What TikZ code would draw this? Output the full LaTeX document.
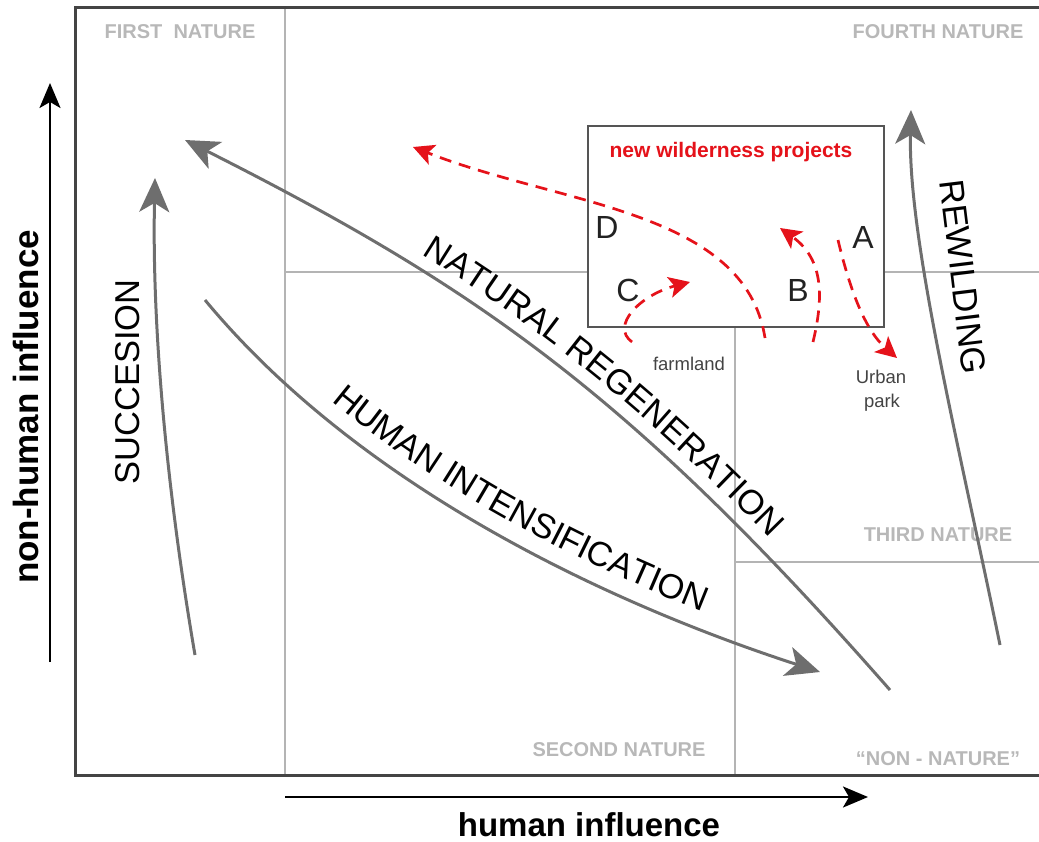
\documentclass[tikz,border=0pt]{standalone}
\usepackage{fontspec}
\setmainfont{Liberation Sans}
\usetikzlibrary{arrows.meta,decorations.text}
\definecolor{framec}{HTML}{444444}
\definecolor{gridc}{HTML}{B4B4B4}
\definecolor{labelc}{HTML}{B8B8B8}
\definecolor{arrowc}{HTML}{6E6E6E}
\definecolor{redc}{HTML}{E5121A}
\definecolor{txtc}{HTML}{222222}
\definecolor{boxc}{HTML}{555555}
\newcommand\lblfont{\fontsize{34.5}{34.5}\selectfont}
\begin{document}
\begin{tikzpicture}[x=1pt,y=-1pt,
  gridline/.style={draw=gridc, line width=1.6pt},
  zone/.style={text=labelc, font=\fontsize{20}{20}\selectfont\bfseries, inner sep=0pt},
  bigarrow/.style={draw=arrowc, line width=3pt, -{Stealth[length=34pt,width=30pt,inset=9pt]}},
  redarrow/.style={draw=redc, line width=2.7pt, dash pattern=on 12pt off 8pt, -{Stealth[length=21pt,width=21pt,inset=5pt]}},
  axis/.style={draw=black, line width=2.4pt, -{Stealth[length=25pt,width=21pt,inset=6pt]}},
  letter/.style={text=txtc, font=\fontsize{32}{32}\selectfont, inner sep=0pt},
  small/.style={text=txtc!85, font=\fontsize{18.5}{18.5}\selectfont, inner sep=0pt, anchor=base},
  vlabel/.style={text=black, font=\lblfont, inner sep=0pt},
  axlabel/.style={text=black, font=\fontsize{33}{33}\selectfont\bfseries, inner sep=0pt}
]
\useasboundingbox (0,0) rectangle (1039,841);
% grid
\draw[gridline] (285,7) -- (285,775);
\draw[gridline] (285,272) -- (1039,272);
\draw[gridline] (735,326) -- (735,775);
\draw[gridline] (735,562) -- (1039,562);
% frame
\draw[draw=framec, line width=3pt] (1039,7) -- (75,7) -- (75,775) -- (1039,775);
% zone labels
\node[zone] (first) at (180,32) {FIRST\ \ NATURE};
\node[zone] (fourth) at (938,32) {FOURTH NATURE};
\node[zone] (third) at (938,535) {THIRD NATURE};
\node[zone] (second) at (619,750) {SECOND NATURE};
\node[zone, anchor=base] (nonnature) at (938,765) {``NON - NATURE''};
% box
\node[draw=boxc, line width=2pt, fill=white, minimum width=296pt, minimum height=201pt, anchor=north west, inner sep=0pt] (box) at (587,125) {};
\node[text=redc, font=\fontsize{21}{21}\selectfont\bfseries, inner sep=0pt, anchor=base] (nwp) at (731,157) {new wilderness projects};
\node[letter] (D) at (607,227) {D};
\node[letter] (C) at (628,290) {C};
\node[letter] (B) at (798,290) {B};
\node[letter] (A) at (863,237) {A};
\node[small] (farm) at (689,370) {farmland};
\node[small] (urban) at (881,383) {Urban};
\node[small] (park) at (882,407) {park};
% axes
\coordinate (ya) at (50,662);
\coordinate (yb) at (50,83);
\coordinate (xa) at (285,797);
\coordinate (xb) at (868,797);
\draw[axis] (ya) -- (yb);
\draw[axis] (xa) -- (xb);
\node[axlabel, rotate=90, font=\fontsize{35}{35}\selectfont\bfseries] (ylab) at (26,407) {non-human influence};
\node[axlabel, anchor=base] (xlab) at (589,836) {human influence};
% big arrows
\coordinate (su0) at (195,655);
\coordinate (su1) at (155,178);
\draw[bigarrow] (su0) .. controls (165,480) and (152,320) .. (su1);
\node[vlabel, rotate=90] (suc) at (128,382) {SUCCESION};
\coordinate (rw0) at (1000,645);
\coordinate (rw1) at (911,110);
\draw[bigarrow] (rw0) .. controls (960,450) and (908,240) .. (rw1);
\node[vlabel, rotate=-83] (rew) at (963,277) {REWILDING};
\coordinate (nr0) at (890,690);
\coordinate (nr1) at (185,140);
\draw[bigarrow] (nr0) .. controls (631,395) and (478,288) .. (nr1);
\path[decorate, decoration={text along path, text={|\lblfont|NATURAL REGENERATION}, raise=14pt, text align={left indent=262pt}}] (nr1) .. controls (478,288) and (631,395) .. (nr0);
\coordinate (hi0) at (205,300);
\coordinate (hi1) at (820,672);
\draw[bigarrow] (hi0) .. controls (370,499) and (635,612) .. (hi1);
\path[decorate, decoration={text along path, text={|\lblfont|HUMAN INTENSIFICATION}, raise=17pt, text align={left indent=163pt}}] (hi0) .. controls (370,499) and (635,612) .. (hi1);
% red dashed arrows
\coordinate (d0) at (765,338);
\coordinate (d1) at (413,147);
\draw[redarrow] (d0) .. controls (745,210) and (560,205) .. (d1);
\coordinate (c0) at (632,342);
\coordinate (c1) at (690,282);
\draw[redarrow] (c0) .. controls (610,326) and (640,295) .. (c1);
\coordinate (b0) at (813,342);
\coordinate (b1) at (780,228);
\draw[redarrow] (b0) .. controls (823,300) and (825,260) .. (b1);
\coordinate (a0) at (838,240);
\coordinate (a1) at (897,358);
\draw[redarrow] (a0) .. controls (850,290) and (865,330) .. (a1);
\end{tikzpicture}
\end{document}
